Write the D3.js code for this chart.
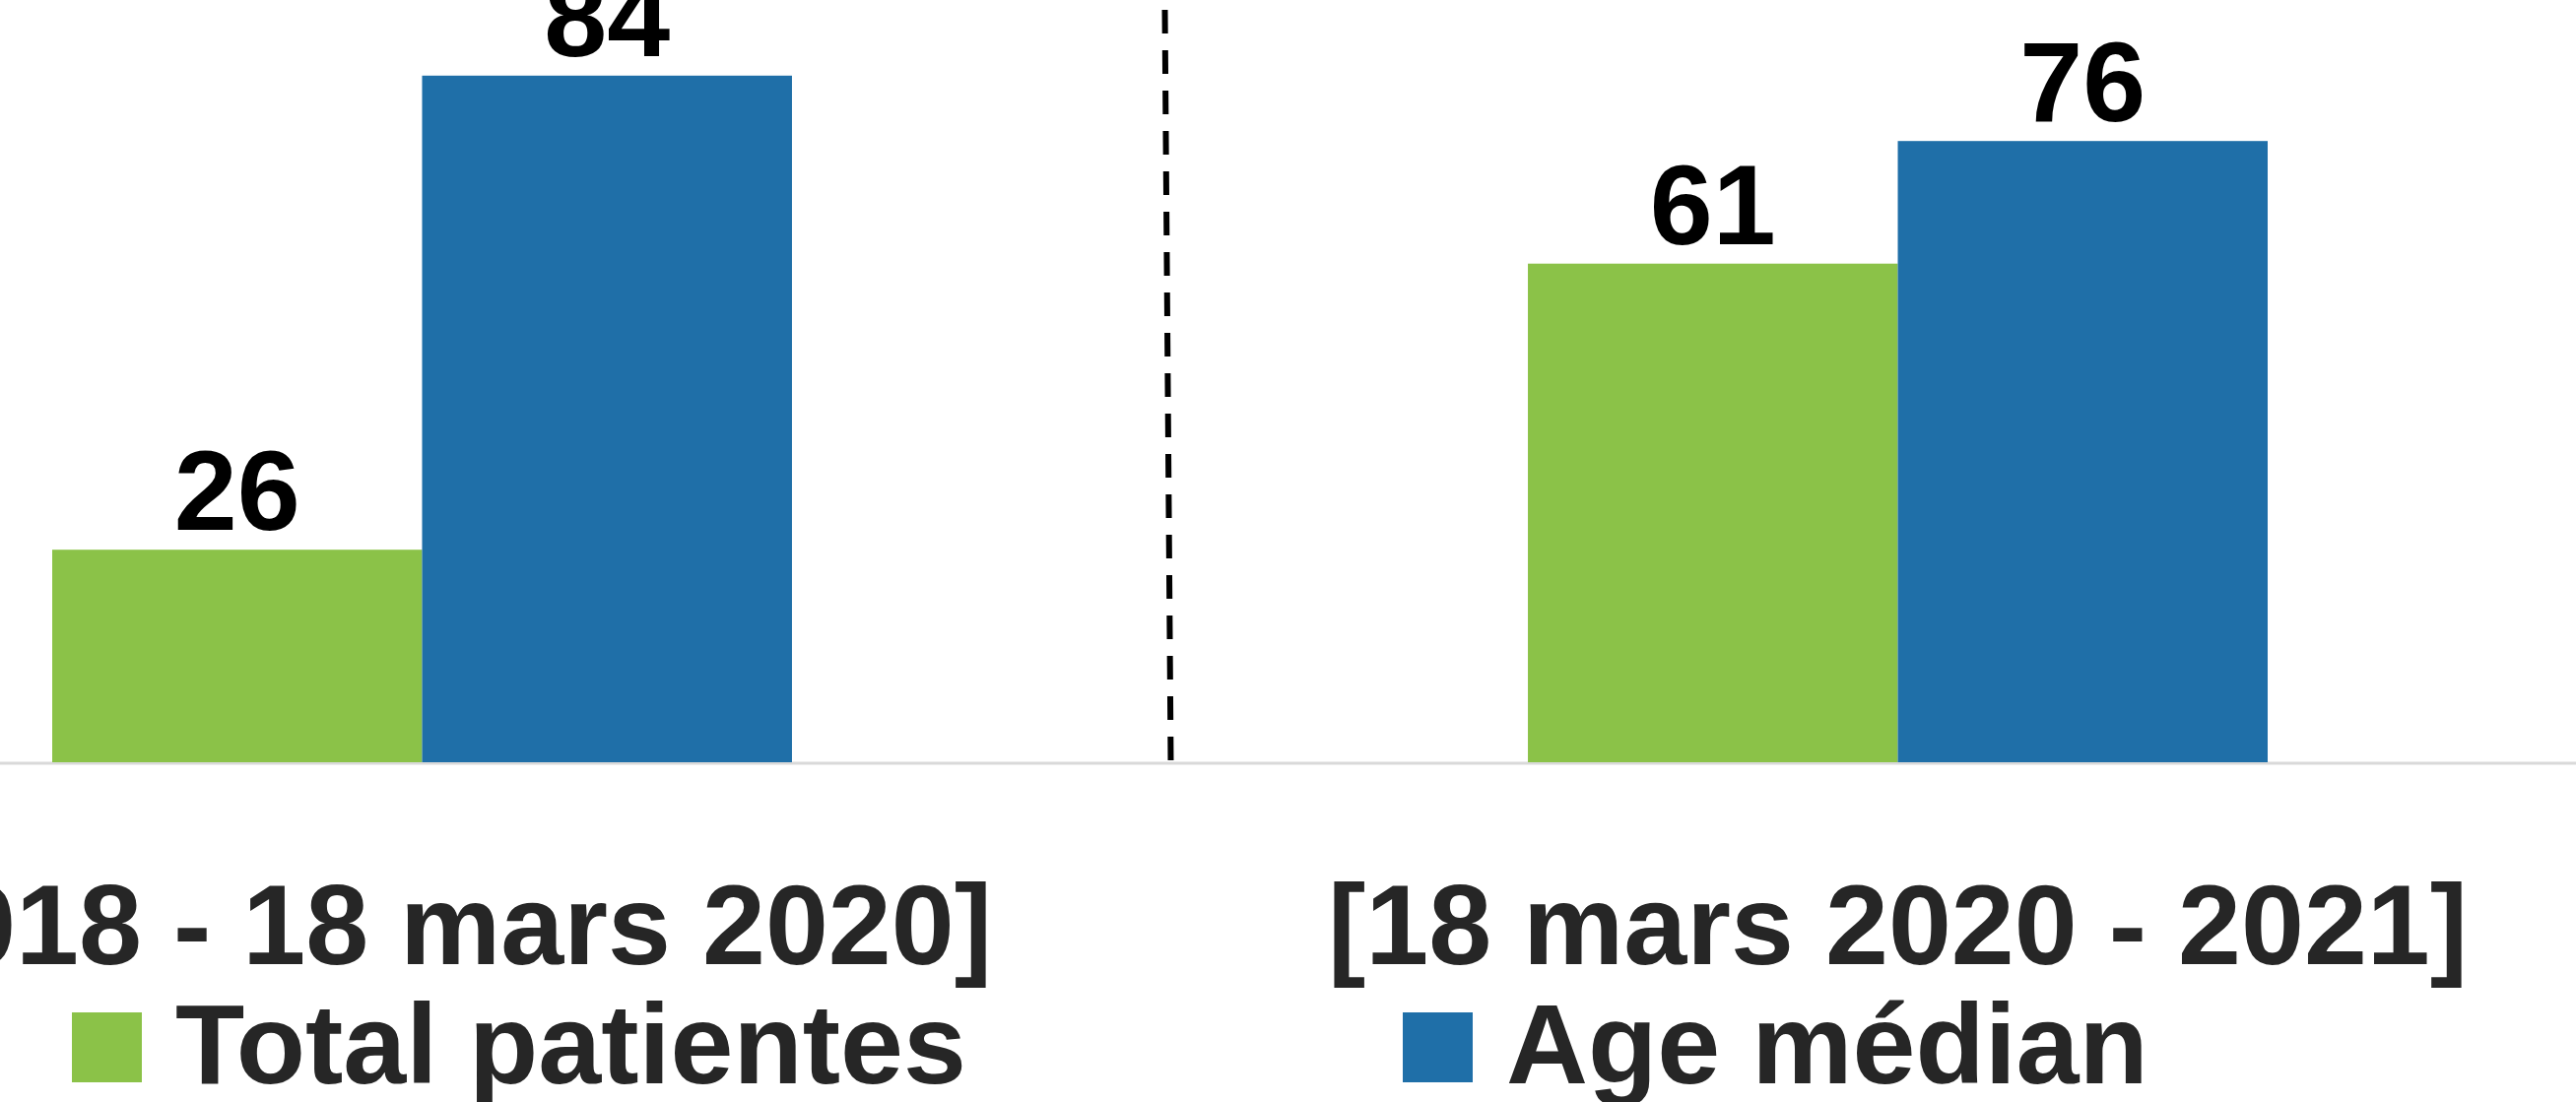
<!DOCTYPE html>
<html>
<head>
<meta charset="utf-8">
<script src="https://cdn.jsdelivr.net/npm/d3@7"></script>
<style>
  html, body { margin: 0; padding: 0; background: #fff; overflow: hidden; }
  svg { display: block; }
  text { font-family: "Liberation Sans", Arial, sans-serif; font-weight: bold; }
</style>
</head>
<body>
<svg id="chart" width="2615" height="1119"></svg>
<script>
// ---- data ----
const categories = ["[2018 - 18 mars 2020]", "[18 mars 2020 - 2021]"];
const seriesNames = ["Total patientes", "Age médian"];
const totalPatientes = [26, 61];
const ageMedian = [84, 76];

const colors = ["#8BC248", "#1F6FA8"];

const W = 2615, H = 1119;
const svg = d3.select("#chart");

const x0 = d3.scaleBand()
  .domain(categories)
  .range([53, 2302])
  .paddingInner(0.4987)
  .paddingOuter(0);

const x1 = d3.scaleBand()
  .domain(seriesNames)
  .range([0, x0.bandwidth()])
  .padding(0);

const y = d3.scaleLinear()
  .domain([0, 90])
  .range([774, 774 - 90 * 8.3]);

const rows = categories.map((c, i) => ({
  cat: c,
  vals: [
    { s: seriesNames[0], v: totalPatientes[i] },
    { s: seriesNames[1], v: ageMedian[i] }
  ]
}));

// baseline
svg.append("line")
  .attr("x1", 0).attr("x2", W)
  .attr("y1", y(0) + 1).attr("y2", y(0) + 1)
  .attr("stroke", "#d9d9d9").attr("stroke-width", 3);

const groups = svg.selectAll("g.cat")
  .data(rows)
  .join("g")
  .attr("class", "cat")
  .attr("transform", d => `translate(${x0(d.cat)},0)`);

groups.selectAll("rect")
  .data(d => d.vals)
  .join("rect")
  .attr("x", d => x1(d.s))
  .attr("y", d => y(d.v))
  .attr("width", x1.bandwidth())
  .attr("height", d => y(0) - y(d.v))
  .attr("fill", (d, i) => colors[i]);

groups.selectAll("text.val")
  .data(d => d.vals)
  .join("text")
  .attr("class", "val")
  .attr("x", d => x1(d.s) + x1.bandwidth() / 2)
  .attr("y", d => y(d.v) - 20)
  .attr("text-anchor", "middle")
  .attr("font-size", 115)
  .attr("fill", "#000")
  .text(d => d.v);

// category axis labels
const xAxis = d3.axisBottom(x0).tickSize(0).tickPadding(0);
const axG = svg.append("g").attr("transform", `translate(0,${y(0)})`).call(xAxis);
axG.select(".domain").remove();
axG.selectAll(".tick text")
  .attr("y", 979 - y(0))
  .attr("dy", 0)
  .attr("font-size", 115)
  .attr("font-family", "Liberation Sans, Arial, sans-serif")
  .attr("font-weight", "bold")
  .attr("fill", "#262626");

// divider (dashed)
const mid = (x0(categories[0]) + x0.bandwidth() + x0(categories[1])) / 2;
svg.append("line")
  .attr("x1", mid + 5).attr("y1", 10)
  .attr("x2", mid + 11).attr("y2", y(0))
  .attr("stroke", "#000")
  .attr("stroke-width", 6)
  .attr("stroke-dasharray", "24,17");

// legend
const legendX = [73, 1424];
const leg = svg.selectAll("g.leg")
  .data(seriesNames)
  .join("g")
  .attr("class", "leg")
  .attr("transform", (d, i) => `translate(${legendX[i]},1028)`);
leg.append("rect")
  .attr("width", 71).attr("height", 71)
  .attr("fill", (d, i) => colors[i]);
leg.append("text")
  .attr("x", 105).attr("y", 72)
  .attr("font-size", 115)
  .attr("fill", "#262626")
  .text(d => d);
</script>
</body>
</html>
